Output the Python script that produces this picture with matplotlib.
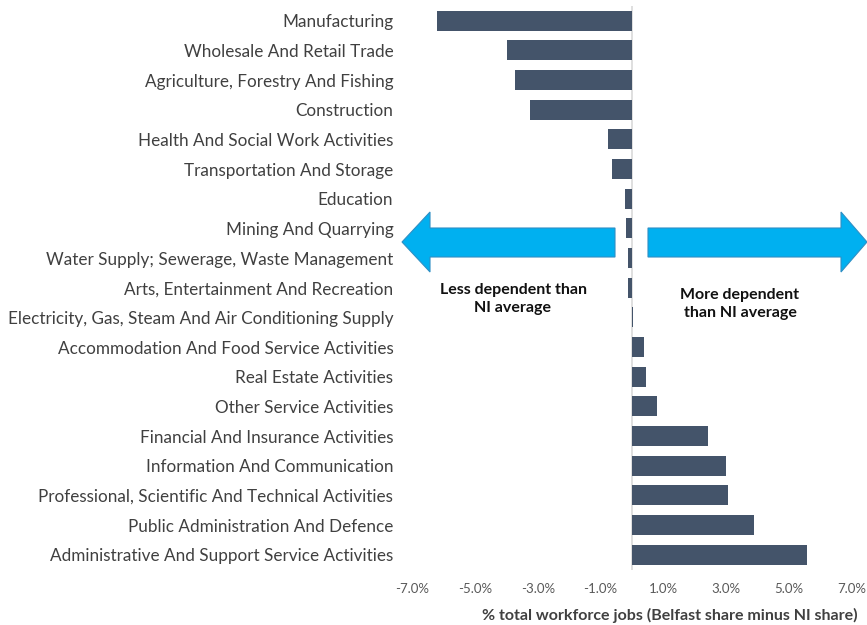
import matplotlib
matplotlib.use("agg")
import matplotlib.pyplot as plt
from matplotlib.patches import Polygon
import numpy as np

plt.rcParams["font.family"] = ["Lato", "DejaVu Sans"]

sectors = [
    "Manufacturing",
    "Wholesale And Retail Trade",
    "Agriculture, Forestry And Fishing",
    "Construction",
    "Health And Social Work Activities",
    "Transportation And Storage",
    "Education",
    "Mining And Quarrying",
    "Water Supply; Sewerage, Waste Management",
    "Arts, Entertainment And Recreation",
    "Electricity, Gas, Steam And Air Conditioning Supply",
    "Accommodation And Food Service Activities",
    "Real Estate Activities",
    "Other Service Activities",
    "Financial And Insurance Activities",
    "Information And Communication",
    "Professional, Scientific And Technical Activities",
    "Public Administration And Defence",
    "Administrative And Support Service Activities",
]
diff = [-6.22, -3.98, -3.72, -3.25, -0.75, -0.63, -0.23, -0.19, -0.14, -0.13,
        0.03, 0.39, 0.43, 0.79, 2.41, 2.99, 3.07, 3.87, 5.56]
xticks = [-7, -5, -3, -1, 1, 3, 5, 7]

W, H = 867, 625
fig = plt.figure(figsize=(W / 100, H / 100), dpi=100)
ax = fig.add_axes([412 / W, (H - 569.5) / H, 440 / W, 563.6 / H])

y = np.arange(len(sectors))
ax.barh(y, diff, height=0.67, color="#44546A", zorder=2)
ax.set_ylim(len(sectors) - 0.5, -0.5)
ax.set_xlim(-7, 7)
ax.axvline(0, color="#D9D9D9", lw=1.2, zorder=1)

ax.set_yticks(y)
ax.set_yticklabels(sectors, fontsize=12.35, color="#404040")
ax.set_xticks(xticks)
ax.set_xticklabels([f"{v:.1f}%" for v in xticks], fontsize=9.5, color="#595959")
ax.tick_params(axis="y", length=0, pad=13.5)
ax.tick_params(axis="x", length=0, pad=10)
for s in ax.spines.values():
    s.set_visible(False)

ax.set_xlabel("% total workforce jobs (Belfast share minus NI share)",
              fontsize=11.5, fontweight="bold", color="#404040")
ax.xaxis.set_label_coords(0.586, -0.068)


def px(pts):
    return [(x / W, 1 - yy / H) for x, yy in pts]


left_arrow = [(402, 242), (430, 212), (430, 228), (615, 228), (615, 257),
              (430, 257), (430, 272)]
right_arrow = [(648, 228), (841, 228), (841, 212), (867, 242), (841, 272),
               (841, 257), (648, 257)]
for pts in (left_arrow, right_arrow):
    fig.patches.append(Polygon(px(pts), closed=True, transform=fig.transFigure,
                               facecolor="#00B0F0", edgecolor="#2F8FC4", lw=0.8))

fig.text(513 / W, 1 - 299 / H, "Less dependent than\nNI average", ha="center",
         va="center", fontsize=11.5, fontweight="bold", color="#111111",
         linespacing=1.3)
fig.text(740 / W, 1 - 304 / H, "More dependent\nthan NI average", ha="center",
         va="center", fontsize=11.5, fontweight="bold", color="#111111",
         linespacing=1.3)

fig.savefig("out.png", dpi=100)
